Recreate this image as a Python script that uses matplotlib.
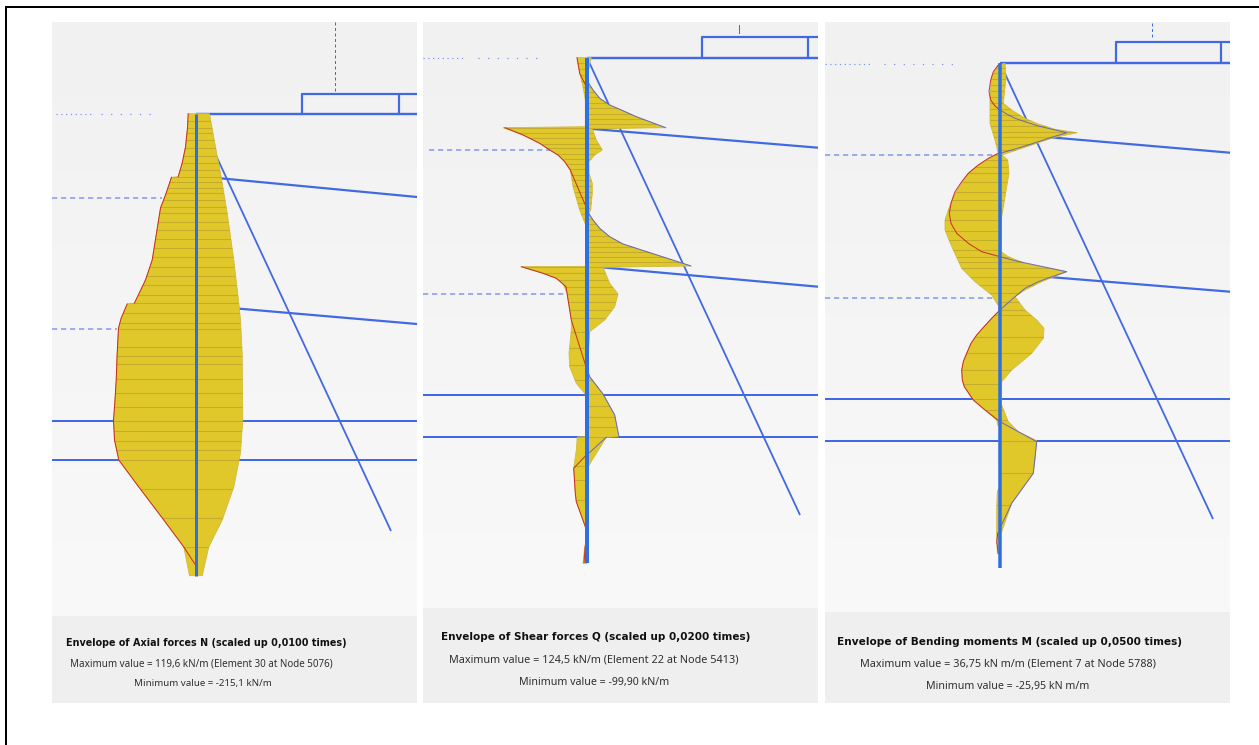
import numpy as np
import matplotlib
matplotlib.use("Agg")
import matplotlib.pyplot as plt
from matplotlib.patches import Polygon, Rectangle

# ---------- data: (depth on the sheet, envelope offset from the wall) ----------
axial_right_y = [113.7,147,173,213,260,303,320,353,420,453,487,520,547,575.7]
axial_right_v = [13,19,24,30.7,37.3,42.3,44,45.7,46.3,44,37.3,25.7,12.3,5.7]
axial_left_y = [113.7,128,147,163,176.7,177.3,195,208,233,260,280,303,304,318,328,353,380,403,420,440,460,487,520,547,575.7]
axial_left_v = [-8.3,-9,-11,-14.3,-18.3,-25,-31,-36,-40,-44.3,-51,-62,-69.3,-75.3,-78,-79.3,-80.3,-81.7,-83,-82,-77.7,-57.7,-32.7,-12.7,-7]
axial_elements = [121,128.3,133.3,140,148.3,156,162.7,170,176.7,182.3,188.3,193.3,200,206.7,213.3,221.7,230,239,248.3,256.7,266.7,275.7,285,295,303.3,313.3,323.3,329.3,347.3,356,364.3,379.3,393.3,407.3,421,431,441,450.3,460.3,489.3,518.3,546.7]
axial_red = [[(113.7,-8.3),(128,-9),(147,-11),(163,-14.3),(176.7,-18.3)],
             [(177.3,-25),(195,-31),(208,-36),(233,-40),(260,-44.3),(280,-51),(303,-62)],
             [(304,-69.3),(318,-75.3),(328,-78),(353,-79.3),(380,-80.3),(403,-81.7),(420,-83),(440,-82),(460,-77.7),(487,-57.7),(520,-32.7),(547,-12.7),(565,-1)]]
axial_blue = []

shear_right_y = [57.7,63.3,80,83.3,90,98.3,105,110.7,116.7,127.7,128.7,140,150,155,161.7,173.3,183.3,193.3,210,213.3,220,228.3,236.7,244,248.3,266,267.3,283.3,294,306.7,320,331.7,370,376.7,394,415,436.7,437.3,465.7,468.3,563.3]
shear_right_v = [4.3,2.7,0.3,1.7,6,12.7,22.7,36,49.3,78.7,5.3,9.3,15.3,7.7,2,2,5.3,5.3,3.7,1.7,6,12.7,22.7,36,49.3,104,16,22.7,31,27.7,17.7,2.7,0.3,2.7,16,27.7,31.7,19.3,1.7,0,0]
shear_left_y = [57.7,73.3,86.7,100,126.7,127.7,135,143.3,150,155,161.7,170,186.7,210,224,225,266.3,266.7,273.3,278.3,283.3,293.3,310,320,330,353.3,366.7,383.3,394,436.7,437,450,468.3,493.3,501.7,526.7,528.3,545,546.7,563.3]
shear_left_v = [-10,-7.3,-4,-1.7,-1.7,-84,-64,-47.3,-37.3,-29,-22.3,-16.7,-14,-7.3,-1.7,0,0,-65.7,-44,-30.7,-24,-20,-17.3,-15.7,-15.7,-18,-17.3,-10.7,-1.7,0,-9.7,-10.7,-13.3,-11.7,-10.7,-1.7,0,-0.5,-2.3,-4]
shear_elements = [63.3,69.3,75,81,86.7,91.7,97.3,103.3,108.3,114,119.3,124,127.7,133.3,138.3,144,148.3,154,159.3,164.3,169.3,175,180,185.7,191.7,196.7,202.7,208.3,214,219.3,224,230,236,241.7,246.7,251.7,256.7,261.7,266.7,273.3,280,286.7,294,301.7,310,318.3,331.7,348.3,365,380,394,406,416.7,426.7,436.7,465.7,480,500]
shear_red = [[(57.7,-10),(73.3,-7.3),(86.7,-0.7)],
             [(127.7,-82),(135,-64),(143.3,-47.3),(150,-37.3),(155,-29),(161.7,-22.3),(170,-16.7),(205,-1.7)],
             [(266.7,-65.7),(273.3,-44),(278.3,-30.7),(286.7,-21),(320,-15.7),(366.7,-1)],
             [(455,-0.7),(468.3,-13.3),(493.3,-11.7),(501.7,-10.7),(526.7,-1.7)],
             [(545,-1.7),(562.7,-3)]]
shear_blue = [[(83.3,1.7),(90,6),(98.3,12.7),(105,22.7),(110.7,36),(116.7,49.3),(127.7,78.7)],
              [(213.3,1.7),(220,6),(228.3,12.7),(236.7,22.7),(244,36),(248.3,49.3),(266,104)],
              [(370,0.3),(376.7,2.7),(394,16),(415,27.7),(436.7,32)],
              [(437.3,19.3),(453.3,1.7),(455,-0.7)]]

moment_right_y = [63.3,78.3,103.3,110,118.3,124,129.3,132.7,137.3,142.7,147.3,151.7,155,160,173.3,196.7,216.7,251.7,256.7,263.3,271.7,281.7,290,296.7,310,320,328.3,338.3,353.3,370,381.7,403.3,421.7,431.7,440.7,460,473.3,503.3,531.7,533.3,567.7]
moment_right_v = [5,6,3.3,11.7,25,38.3,55,77.3,55,38.3,25,11.7,1.7,7.7,9,5,1.7,1,8.3,25,66.7,41.7,25,15,25,36.7,44,43.3,31.7,11.7,1.7,1,8.3,18.3,36.7,35,33.3,11.7,1.7,0,0]
moment_left_y = [65,76.7,96.7,123.3,140,153.3,159,165,173.3,183.3,196.7,210,220,230,240,250,268.3,281.7,295,306.7,311.7,318.3,320,329.3,335,343.3,353.3,361.7,370,380,386.7,400,410,420,425,426.7,486.7,491.7,506.7,533.3,553.3,555,567.7]
moment_left_v = [-1.7,-8.3,-10,-10,-5,-1.7,-11.7,-21.7,-31.7,-38.3,-46.7,-51.7,-55,-55,-51,-46.7,-38.3,-25,-8.3,-1,-1.7,-8.3,-10,-18.3,-23.3,-29,-33.3,-36.7,-38.3,-37.7,-35.7,-26.7,-15,-3.3,-2.3,-0.7,-0.7,-2.7,-3.3,-3.3,-2.7,0,0]
moment_elements = [68.3,73.3,79.3,85,90.7,97.3,103.3,109.3,115,120,126,131.7,137.3,144,150,155,160,166.7,173.3,182.3,191.7,200,210,220,230.7,240,250,256.7,261.7,268.3,276.7,285,293.3,301.7,310,315,337.3,353.3,370,384,399.3,410,420,440.7,473.3,505,531.7]
moment_red = [[(65,-1.7),(71.7,-6.7),(80,-9.3),(91.7,-11),(100,-9.3),(106,-5),(110,0)],
              [(153.3,-1.7),(158.3,-11.7),(165,-21.7),(173.3,-31.7),(181.7,-38.3),(191.7,-45),(203.3,-49),(213.3,-50.7),(223.3,-49),(233.3,-43.3),(243.3,-31.7),(251.7,-18.3),(256.7,0)],
              [(310,0),(318.3,-8.3),(329.3,-18.3),(335,-23.3),(343.3,-29),(353.3,-33.3),(361.7,-36.7),(370,-38.3),(380,-37.7),(386.7,-35.7),(400,-26.7),(410,-15),(421.7,0)],
              [(533.3,-2.3),(541.7,-3.3),(553.3,-1.7)]]
moment_blue = [[(110,0),(114,6.7),(118.3,15),(121.7,25),(126,38.3),(132.7,66.7),(137.3,51.7),(141.7,38.3),(146,25),(150,11.7),(153.3,0)],
               [(256.7,0),(260.7,15),(271.7,66.7),(276.7,51.7),(281.7,38.3),(288.3,25),(296.7,15),(310,0)],
               [(421.7,0),(441.7,36.7),(473.3,33.3),(503.3,11.7),(526.7,0.7)]]

captions = [
    ("Envelope of Axial forces N (scaled up 0,0100 times)",
     "Maximum value = 119,6 kN/m (Element 30 at Node 5076)",
     "Minimum value = -215,1 kN/m"),
    ("Envelope of Shear forces Q (scaled up 0,0200 times)",
     "Maximum value = 124,5 kN/m (Element 22 at Node 5413)",
     "Minimum value = -99,90 kN/m"),
    ("Envelope of Bending moments M (scaled up 0,0500 times)",
     "Maximum value = 36,75 kN m/m (Element 7 at Node 5788)",
     "Minimum value = -25,95 kN m/m"),
]

# ---------- styles ----------
FILL = "#e0c82b"; EDGE = "#d0ba3c"; ELEM = "#c4ad2c"
BLUE = "#4169e1"; WALL = "#2f70e0"; RED = "#c8141e"; ENV_BLUE = "#3c46e6"
PX = 0.72
FONT = "Noto Sans"; BOLD = "DejaVu Sans"

panels = [
    dict(x0=52, x1=417, cap=616, wall=196.5, top=113.7, bot=575.7, wall_w=3,
         rect=(302, 94, 398.7), mark=(335, 22, 91, (0, (3, 2.5))),
         dot=(56, 157, 114), dash1=(52, 162, 198), dash2=(52, 117, 329),
         diag=(391, 531), strut1=(176, 197), strut2=(305, 324),
         h=(421, 460),
         ry=axial_right_y, rv=axial_right_v, ly=axial_left_y, lv=axial_left_v,
         el=axial_elements, red=axial_red, blue=axial_blue,
         txt=[(66, 643, 6.9), (70, 663.5, 7.1), (134, 683.5, 7.0)]),
    dict(x0=423, x1=818, cap=608, wall=587, top=57.7, bot=563.3, wall_w=4,
         rect=(702.3, 36.7, 808.3), mark=(739, 25, 33, "-"),
         dot=(423, 545, 58), dash1=(429, 551, 150), dash2=(423, 566, 293.7),
         diag=(800, 515), strut1=(128.5, 147.7), strut2=(266, 286.7),
         h=(394.7, 437),
         ry=shear_right_y, rv=shear_right_v, ly=shear_left_y, lv=shear_left_v,
         el=shear_elements, red=shear_red, blue=shear_blue,
         txt=[(441, 637.5, 7.5), (449.5, 660, 7.8), (519, 682, 7.65)]),
    dict(x0=825, x1=1230, cap=612, wall=1000, top=63, bot=567.7, wall_w=3.5,
         rect=(1115.7, 42, 1221), mark=(1152, 23, 38, (0, (3, 2.5))),
         dot=(825, 956, 63.5), dash1=(825, 997, 155.3), dash2=(825, 995, 298),
         diag=(1213, 519), strut1=(133, 152.7), strut2=(273, 291.7),
         h=(399.3, 441.3),
         ry=moment_right_y, rv=moment_right_v, ly=moment_left_y, lv=moment_left_v,
         el=moment_elements, red=moment_red, blue=moment_blue,
         txt=[(837, 642, 7.55), (860, 664, 7.8), (926, 686, 7.65)]),
]

fig = plt.figure(figsize=(12.59, 7.45), dpi=100, facecolor="white")
ax = fig.add_axes([0, 0, 1, 1])
ax.set_xlim(0, 1259); ax.set_ylim(745, 0); ax.axis("off")

# outer frame
ax.plot([6, 6, 1259], [745, 7, 7], color="black", lw=2 * PX, solid_joinstyle="miter", zorder=1)

grad = np.linspace(0, 1, 256).reshape(-1, 1)
cm = matplotlib.colors.LinearSegmentedColormap.from_list("g", ["#f1f1f1", "#f9f9f9"])
for p, cap in zip(panels, captions):
    x0, x1, wall, top, bot = p["x0"], p["x1"], p["wall"], p["top"], p["bot"]
    ax.imshow(grad, extent=(x0, x1, p["cap"], 22), aspect="auto", cmap=cm, vmin=0, vmax=1, zorder=1)
    ax.add_patch(Rectangle((x0, p["cap"]), x1 - x0, 703 - p["cap"], fc="#efefef", ec="none", zorder=1))

    # structure
    sl = dict(color=BLUE, solid_capstyle="butt", zorder=2)
    ax.plot([wall, x1], [top, top], lw=2.4 * PX, **sl)
    rx, ry, rd = p["rect"]
    ax.plot([rx, rx, x1], [top, ry, ry], lw=2.2 * PX, **sl)
    ax.plot([rd, rd], [ry, top], lw=2.2 * PX, **sl)
    mx, m0, m1, ms = p["mark"]
    ax.plot([mx, mx], [m0, m1], color=BLUE, lw=1 * PX, ls=ms, zorder=2)
    ax.plot([wall, p["diag"][0]], [top, p["diag"][1]], lw=1.8 * PX, **sl)
    ax.plot([wall, x1], list(p["strut1"]), lw=2.2 * PX, **sl)
    ax.plot([wall, x1], list(p["strut2"]), lw=2.2 * PX, **sl)
    for yy in p["h"]:
        ax.plot([x0, x1], [yy, yy], lw=2 * PX, **sl)
    a, b, yy = p["dot"]
    ax.plot([a, a + (b - a) * 0.35], [yy, yy], color=BLUE, alpha=0.7, lw=1.2 * PX, ls=(0, (1, 3)), zorder=2)
    ax.plot([a + (b - a) * 0.45, b], [yy, yy], color=BLUE, alpha=0.7, lw=1.2 * PX, ls=(0, (1, 7)), zorder=2)
    for key in ("dash1", "dash2"):
        a, b, yy = p[key]
        ax.plot([a, b], [yy, yy], color=BLUE, alpha=0.65, lw=1.5 * PX, ls=(0, (3.5, 2.5)), zorder=2)

    # envelope, read from the arrays
    right = [(wall + v, y) for y, v in zip(p["ry"], p["rv"])]
    left = [(wall + v, y) for y, v in zip(p["ly"], p["lv"])]
    poly = Polygon(right + left[::-1], closed=True, fc=FILL, ec=EDGE, lw=0.8 * PX, zorder=3)
    ax.add_patch(poly)
    for yy in p["el"]:
        ln, = ax.plot([x0, x1], [yy, yy], color=ELEM, lw=1.1 * PX, zorder=4)
        ln.set_clip_path(poly)
    for seg in p["red"]:
        ax.plot([wall + v for _, v in seg], [y for y, _ in seg], color=RED, lw=1 * PX, alpha=0.85, zorder=5)
    for seg in p["blue"]:
        ax.plot([wall + v for _, v in seg], [y for y, _ in seg], color=ENV_BLUE, lw=1 * PX, alpha=0.7, zorder=5)

    # wall
    ax.plot([wall, wall], [top, bot], color=WALL, lw=p["wall_w"] * PX, solid_capstyle="butt", zorder=6)

    # captions
    (tx, ty, ts), (mx_, my, ms_), (nx, ny, ns) = p["txt"]
    ax.text(tx, ty, cap[0], fontsize=ts, fontweight="bold", family=BOLD, color="#111111", va="center", ha="left", zorder=7)
    ax.text(mx_, my, cap[1], fontsize=ms_, family=FONT, color="#303030", va="center", ha="left", zorder=7)
    ax.text(nx, ny, cap[2], fontsize=ns, family=FONT, color="#303030", va="center", ha="left", zorder=7)

ax.set_xlim(0, 1259); ax.set_ylim(745, 0)
fig.savefig("out.png", dpi=100, facecolor="white")
